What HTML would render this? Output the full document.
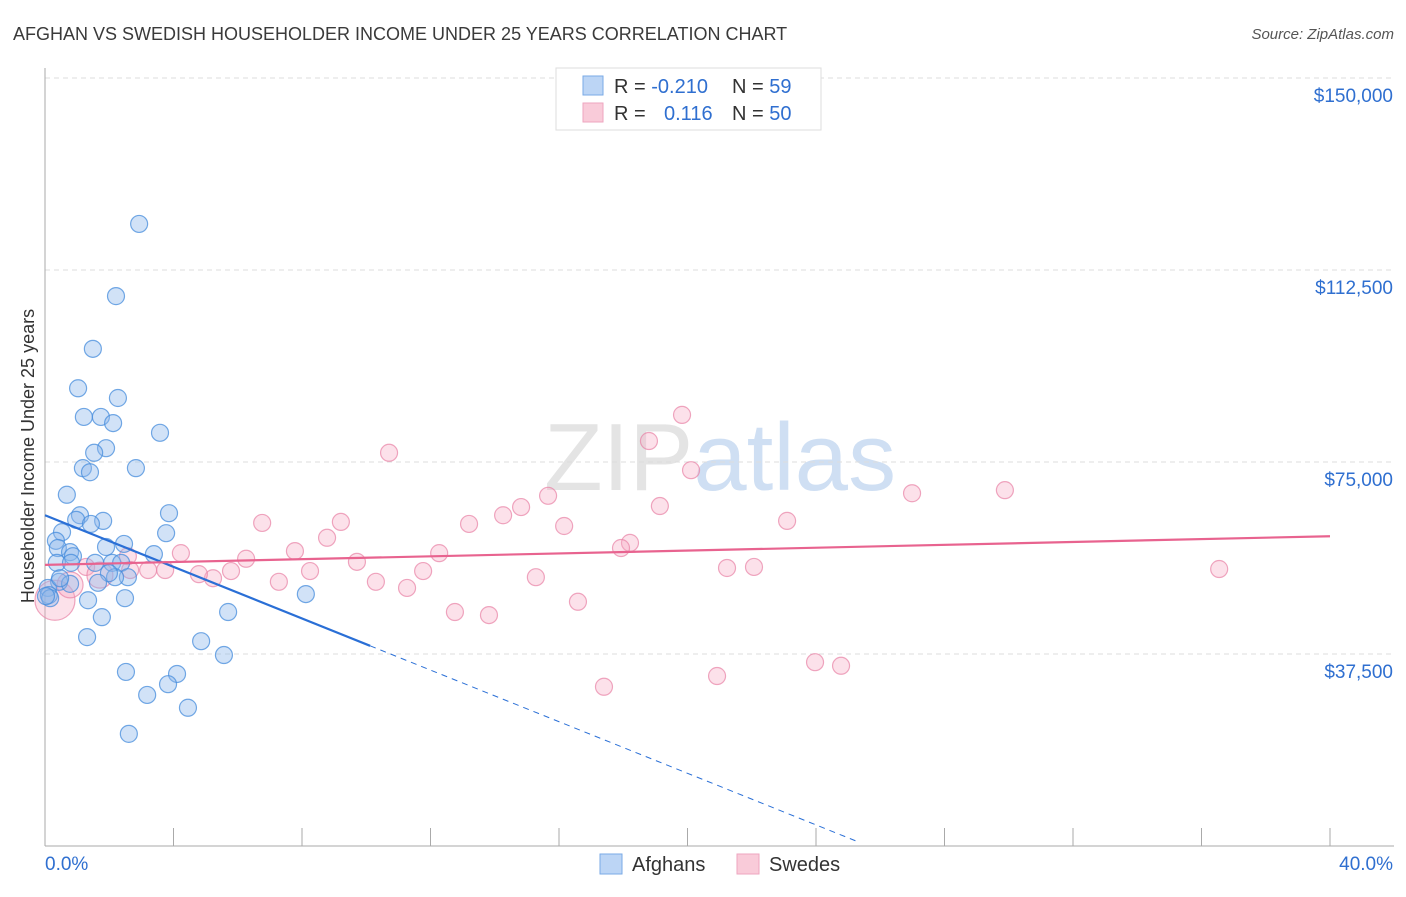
<!DOCTYPE html>
<html><head><meta charset="utf-8"><style>
body{margin:0;background:#fff;font-family:"Liberation Sans",sans-serif;}
svg text{font-family:"Liberation Sans",sans-serif;}
</style></head><body>
<svg id="chart" width="1406" height="892">
<text x="13" y="40" font-size="18" fill="#3a3a3a">AFGHAN VS SWEDISH HOUSEHOLDER INCOME UNDER 25 YEARS CORRELATION CHART</text>
<text x="1394" y="39" font-size="15" fill="#555" font-style="italic" text-anchor="end">Source: ZipAtlas.com</text>
<text x="720" y="490" font-size="96" fill="#e4e4e4" text-anchor="middle" font-family="Liberation Serif">ZIP<tspan fill="#cfdff3" font-family="Liberation Sans">atlas</tspan></text>
<g id="grid"></g><g id="axes"></g><g id="pts"></g><g id="lines"></g>
<text transform="translate(34,456) rotate(-90)" font-size="18" fill="#333" text-anchor="middle">Householder Income Under 25 years</text>
<g>
<rect x="556" y="68" width="265" height="62" fill="#fff" stroke="#ddd"/>
<rect x="583" y="76" width="20" height="19" fill="#bcd5f5" stroke="#7aaae6"/>
<rect x="583" y="103" width="20" height="19" fill="#f9cbd9" stroke="#eea6bf"/>
<text x="614" y="93" font-size="20" fill="#333">R = <tspan fill="#2f6fd0">-0.210</tspan><tspan x="732">N = </tspan><tspan fill="#2f6fd0">59</tspan></text>
<text x="614" y="120" font-size="20" fill="#333">R = <tspan x="664" fill="#2f6fd0">0.116</tspan><tspan x="732">N = </tspan><tspan fill="#2f6fd0">50</tspan></text>
</g>
<g>
<rect x="600" y="854" width="22" height="20" fill="#bcd5f5" stroke="#7aaae6"/>
<text x="632" y="871" font-size="20" fill="#333">Afghans</text>
<rect x="737" y="854" width="22" height="20" fill="#f9cbd9" stroke="#eea6bf"/>
<text x="769" y="871" font-size="20" fill="#333">Swedes</text>
</g>
</svg>
<script>
const yTicks=[37500,75000,112500,150000];
const yTickLabels=["$37,500","$75,000","$112,500","$150,000"];
const xTickLabels=["0.0%","40.0%"];
const afgX=[2.93,2.21,1.49,1.03,1.21,1.74,2.27,2.12,3.58,1.90,1.53,1.18,1.40,2.83,0.68,1.09,0.97,0.53,1.81,1.43,3.86,3.77,0.34,0.40,2.46,0.78,0.87,3.39,1.90,0.37,0.81,1.56,2.09,2.37,2.58,2.18,1.99,0.44,0.78,0.09,0.12,1.65,8.12,2.49,1.34,5.70,1.77,1.31,4.86,5.57,2.52,4.11,3.83,3.18,4.45,2.61,0.16,0.03,0.47];
const afgY=[121.5,107.4,97.1,89.4,83.8,83.8,87.5,82.6,80.7,77.7,76.8,73.8,73.0,73.8,68.6,64.6,63.7,61.3,63.5,62.9,65.0,61.1,59.6,58.2,59.0,57.4,56.6,57.0,58.4,55.3,55.3,55.3,55.3,55.3,52.5,52.5,53.3,51.6,51.2,50.4,49.0,51.4,49.2,48.4,48.0,45.7,44.7,40.8,40.0,37.3,34.0,33.6,31.6,29.5,27.0,21.9,48.4,48.8,52.3];
const sweX=[19.83,18.80,10.71,20.11,26.99,29.88,15.66,19.14,14.82,14.26,9.21,6.76,13.20,23.10,16.16,8.78,18.21,17.93,7.78,12.27,6.26,9.71,4.23,2.58,1.28,21.23,22.07,36.55,8.25,15.28,11.77,5.79,3.21,3.74,5.23,4.79,10.30,7.28,11.27,16.59,12.76,13.82,23.97,24.78,20.92,17.40,0.31,0.78,1.71,2.65];
const sweY=[84.2,79.1,76.8,73.4,68.9,69.5,68.4,66.4,66.2,64.6,63.3,63.1,62.9,63.5,62.5,60.2,59.2,58.2,57.6,57.2,56.1,55.5,57.2,56.6,54.5,54.3,54.5,54.1,53.7,52.5,53.7,53.7,53.9,53.9,52.3,53.1,51.6,51.6,50.4,47.7,45.7,45.1,35.9,35.2,33.2,31.1,48.0,51.0,52.9,53.9];
const sweBig=[0,0,0,0,0,0,0,0,0,0,0,0,0,0,0,0,0,0,0,0,0,0,0,0,0,0,0,0,0,0,0,0,0,0,0,0,0,0,0,0,0,0,0,0,0,0,2,1,1,0];
const afgTrend=[64.6,-2.52]; // intercept (k$), slope per %
const sweTrend=[54.9,0.14];
const NS="http://www.w3.org/2000/svg";
const X=v=>45+v/40*1285, Y=v=>846-v/37.5*192; // v in k$
function mk(t,a,p){const e=document.createElementNS(NS,t);for(const k in a)e.setAttribute(k,a[k]);document.getElementById(p).appendChild(e);return e;}
yTicks.forEach((t,i)=>{
 const l=mk('line',{x1:45,x2:1394,y1:Y(t/1000),y2:Y(t/1000),stroke:'#ddd','stroke-dasharray':'5,4'},'grid');
 
 
 const tx=mk('text',{x:1393,y:Y(t/1000)+24,'font-size':19,fill:'#2f6fd0','text-anchor':'end'},'axes');
 tx.textContent=yTickLabels[i];
 
 
});
mk('line',{x1:45,x2:45,y1:68,y2:846,stroke:'#aaa'},'axes');
mk('line',{x1:45,x2:1394,y1:846,y2:846,stroke:'#aaa'},'axes');
for(let i=0;i<=10;i++){const l=mk('line',{x1:X(i*4),x2:X(i*4),y1:828,y2:846,stroke:'#aaa'},'axes');
 
 }
[[45,'start'],[1393,'end']].forEach((p,i)=>{const t=mk('text',{x:p[0],y:870,'font-size':19,fill:'#2f6fd0','text-anchor':p[1]},'axes');t.textContent=xTickLabels[i];
 
 });
sweX.forEach((x,i)=>{const r=sweBig[i]==2?20:sweBig[i]==1?13:8.5;
 const c=mk('circle',{cx:X(x),cy:Y(sweY[i]),r:r,fill:'rgba(246,170,196,0.35)',stroke:'rgba(232,130,165,0.7)','stroke-width':1.2},'pts');
 
 });
afgX.forEach((x,i)=>{const c=mk('circle',{cx:X(x),cy:Y(afgY[i]),r:8.5,fill:'rgba(140,182,236,0.4)',stroke:'rgba(70,140,220,0.75)','stroke-width':1.2},'pts');
 
 });
const a1=mk('line',{x1:X(0),y1:Y(afgTrend[0]),x2:X(10.12),y2:Y(afgTrend[0]+afgTrend[1]*10.12),stroke:'#2a6fd6','stroke-width':2.2},'lines');


const a2=mk('line',{x1:X(10.12),y1:Y(afgTrend[0]+afgTrend[1]*10.12),x2:X(25.3),y2:Y(afgTrend[0]+afgTrend[1]*25.3),stroke:'#2a6fd6','stroke-width':1,'stroke-dasharray':'6,5'},'lines');


const s1=mk('line',{x1:X(0),y1:Y(sweTrend[0]),x2:X(40),y2:Y(sweTrend[0]+sweTrend[1]*40),stroke:'#e8638f','stroke-width':2.2},'lines');


</script>
</body></html>
